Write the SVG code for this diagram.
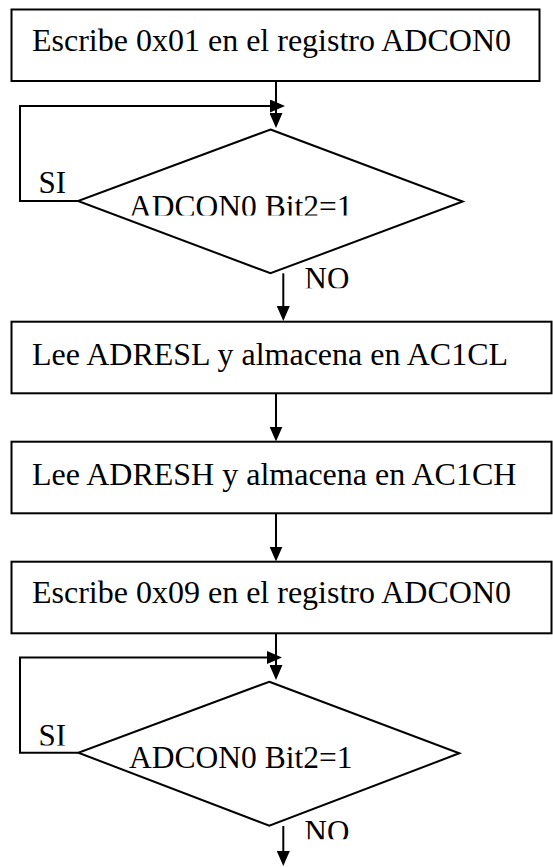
<svg xmlns="http://www.w3.org/2000/svg" width="553" height="867" viewBox="0 0 553 867">
  <style>
    .box { fill: #fff; stroke: #000; stroke-width: 2; }
    .dec { fill: #fff; stroke: #000; stroke-width: 2; stroke-linejoin: miter; }
    .wire { fill: none; stroke: #000; stroke-width: 2; }
    .arrow { marker-end: url(#head); }
    .t { font-family: "Liberation Serif", "Times New Roman", serif; fill: #000; }
    .tb { font-size: 32px; }
    .td { font-size: 31.5px; }
    .tl { font-size: 31px; }
  </style>
  <defs>
    <marker id="head" markerUnits="userSpaceOnUse" viewBox="0 0 15 13" refX="7" refY="6.5" markerWidth="15" markerHeight="13" orient="auto">
      <path d="M0,0 L15,6.5 L0,13 z" fill="#000"/>
    </marker>
    <!-- label frames that trim the lower edge of the text -->
    <clipPath id="clipD1"><rect x="100" y="180" width="300" height="35.5"/></clipPath>
    <clipPath id="clipD2"><rect x="100" y="730" width="300" height="38.3"/></clipPath>
    <clipPath id="clipSI1"><rect x="30" y="160" width="45" height="33"/></clipPath>
    <clipPath id="clipSI2"><rect x="30" y="714" width="45" height="31.5"/></clipPath>
    <clipPath id="clipNO1"><rect x="295" y="262" width="60" height="26.3"/></clipPath>
    <clipPath id="clipNO2"><rect x="295" y="814" width="60" height="25.3"/></clipPath>
  </defs>

  <rect width="553" height="867" fill="#fff"/>

  <g id="connectors">
    <!-- box 1 to decision 1 -->
    <path class="wire arrow" d="M276,81 V120"/>
    <!-- SI loop of decision 1 -->
    <path class="wire arrow" d="M78,201 H20 V106 H277"/>
    <!-- NO of decision 1 to box 2 -->
    <path class="wire arrow" d="M283.3,273.3 V313"/>
    <!-- box 2 to box 3 -->
    <path class="wire arrow" d="M276,393.3 V433.5"/>
    <!-- box 3 to box 4 -->
    <path class="wire arrow" d="M276,513.3 V553.5"/>
    <!-- box 4 to decision 2 -->
    <path class="wire arrow" d="M276,633.3 V672"/>
    <!-- SI loop of decision 2 -->
    <path class="wire arrow" d="M78.3,752.7 H20 V657.5 H274"/>
    <!-- NO of decision 2 -->
    <path class="wire arrow" d="M283.3,826 V858"/>
  </g>

  <g id="box1">
    <rect class="box" x="11.5" y="9.5" width="528" height="71.5"/>
    <text class="t tb" x="32" y="50.7">Escribe 0x01 en el registro ADCON0</text>
  </g>

  <g id="decision1">
    <polygon class="dec" points="270.5,129.5 462.7,201.5 270.5,273.3 78,201"/>
    <g clip-path="url(#clipD1)">
      <text class="t td" x="129" y="216.8">ADCON0 Bit2=1</text>
    </g>
  </g>

  <g id="label-si1" clip-path="url(#clipSI1)">
    <text class="t tl" x="38.5" y="193">SI</text>
  </g>

  <g id="label-no1" clip-path="url(#clipNO1)">
    <text class="t tl" x="304.5" y="289.2">NO</text>
  </g>

  <g id="box2">
    <rect class="box" x="11.5" y="321.7" width="540" height="71.6"/>
    <text class="t tb" x="32" y="364.5">Lee ADRESL y almacena en AC1CL</text>
  </g>

  <g id="box3">
    <rect class="box" x="11.5" y="441.7" width="540" height="71.6"/>
    <text class="t tb" x="32" y="484.5">Lee ADRESH y almacena en AC1CH</text>
  </g>

  <g id="box4">
    <rect class="box" x="11.5" y="561.7" width="540" height="71.6"/>
    <text class="t tb" x="32" y="602.5">Escribe 0x09 en el registro ADCON0</text>
  </g>

  <g id="decision2">
    <polygon class="dec" points="269.3,681.7 459.3,753.3 269.3,825.7 78.3,752.7"/>
    <g clip-path="url(#clipD2)">
      <text class="t td" x="129" y="767.5">ADCON0 Bit2=1</text>
    </g>
  </g>

  <g id="label-si2" clip-path="url(#clipSI2)">
    <text class="t tl" x="38.5" y="745.5">SI</text>
  </g>

  <g id="label-no2" clip-path="url(#clipNO2)">
    <text class="t tl" x="304.5" y="841.5">NO</text>
  </g>
</svg>
